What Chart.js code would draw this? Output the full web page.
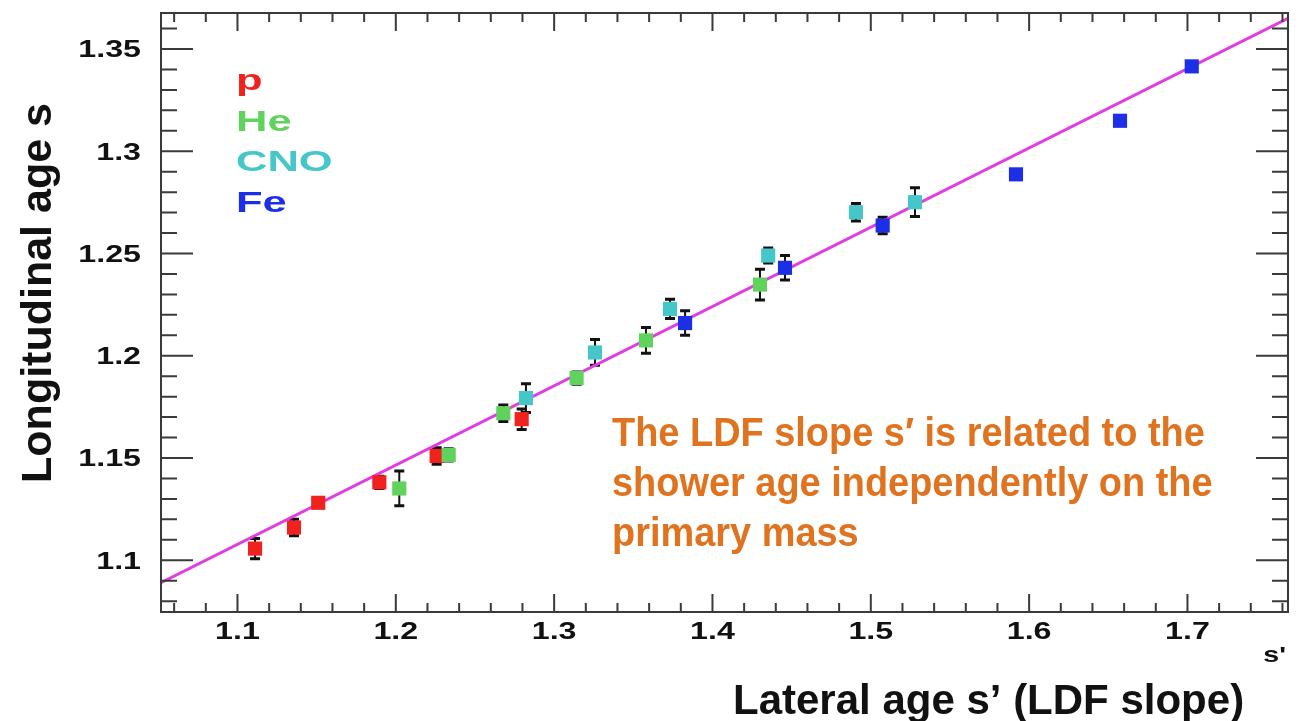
<!DOCTYPE html>
<html>
<head>
<meta charset="utf-8">
<title>Longitudinal vs lateral age</title>
<script src="https://cdn.jsdelivr.net/npm/chart.js@4.4.1/dist/chart.umd.min.js"></script>
<style>
  html, body { margin: 0; padding: 0; background: #fff; }
  #ageChart { display: block; }
</style>
</head>
<body>
<canvas id="ageChart" width="1301" height="721"></canvas>
<script>
// lateral age s' (x), longitudinal age s (y) and its error, per primary
const pX = [1.1111, 1.1357, 1.1510, 1.1896, 1.2258, 1.2795];
const pY = [1.1057, 1.1160, 1.1281, 1.1381, 1.1510, 1.1690];
const pErr = [0.005, 0.004, 0.002, 0.003, 0.004, 0.005];

const heX = [1.2022, 1.2334, 1.2679, 1.3142, 1.3580, 1.4300];
const heY = [1.1351, 1.1515, 1.1719, 1.1891, 1.2075, 1.2348];
const heErr = [0.0085, 0.003, 0.004, 0.003, 0.0063, 0.0075];

const cnoX = [1.2822, 1.3258, 1.3732, 1.4352, 1.4906, 1.5279];
const cnoY = [1.1793, 1.2016, 1.2229, 1.2490, 1.2702, 1.2751];
const cnoErr = [0.007, 0.0063, 0.0047, 0.0037, 0.0043, 0.007];

const feX = [1.3827, 1.4458, 1.5075, 1.5917, 1.6574, 1.7027];
const feY = [1.2160, 1.2430, 1.2637, 1.2887, 1.3149, 1.3415];
const feErr = [0.006, 0.006, 0.004, 0.002, 0.002, 0.002];

// linear fit through all the points
const fitX = [1.0517, 1.7635];
const fitY = [1.089, 1.365];

const xTicks = [1.1, 1.2, 1.3, 1.4, 1.5, 1.6, 1.7];
const xTickLabels = ["1.1", "1.2", "1.3", "1.4", "1.5", "1.6", "1.7"];
const yTicks = [1.1, 1.15, 1.2, 1.25, 1.3, 1.35];
const yTickLabels = ["1.1", "1.15", "1.2", "1.25", "1.3", "1.35"];

const legendNames = ["p", "He", "CNO", "Fe"];
const noteLines = [
    "The LDF slope s\u2032 is related to the",
    "shower age independently on the",
    "primary mass"
];

const colors = ["#f0221e", "#5fd35c", "#45c6c8", "#1c2ee6"];

function points(xs, ys) {
    return xs.map((x, i) => ({ x: x, y: ys[i] }));
}

function markerSet(label, xs, ys, errs, color) {
    return {
        label: label,
        data: points(xs, ys),
        yErr: errs,
        backgroundColor: color,
        borderWidth: 0,
        pointStyle: "rect",
        pointRadius: 10,
        showLine: false
    };
}

// ROOT-like text is wider than the font, stretch it horizontally
function wideText(ctx, text, x, y, align, sx) {
    ctx.save();
    ctx.translate(x, y);
    ctx.scale(sx, 1);
    ctx.textAlign = align;
    ctx.fillText(text, 0, 0);
    ctx.restore();
}

function minorValues(min, max, step, majors) {
    const out = [];
    const start = Math.ceil(min / step - 1e-9);
    for (let k = start; k * step <= max + 1e-9; k++) {
        const v = +(k * step).toFixed(4);
        if (!majors.some(m => Math.abs(m - v) < 1e-6)) out.push(v);
    }
    return out;
}

// error bars go under the markers
const errorBars = {
    id: "errorBars",
    beforeDatasetsDraw(chart) {
        const ctx = chart.ctx;
        const xs = chart.scales.x, ys = chart.scales.y;
        ctx.save();
        ctx.strokeStyle = "#111";
        chart.data.datasets.forEach(ds => {
            if (!ds.yErr) return;
            ds.data.forEach((pt, i) => {
                const px = xs.getPixelForValue(pt.x);
                const top = ys.getPixelForValue(pt.y + ds.yErr[i]);
                const bot = ys.getPixelForValue(pt.y - ds.yErr[i]);
                ctx.lineWidth = 2;
                ctx.beginPath();
                ctx.moveTo(px, top); ctx.lineTo(px, bot);
                ctx.stroke();
                ctx.lineWidth = 3;
                ctx.beginPath();
                ctx.moveTo(px - 5, top); ctx.lineTo(px + 5, top);
                ctx.moveTo(px - 5, bot); ctx.lineTo(px + 5, bot);
                ctx.stroke();
            });
        });
        ctx.restore();
    }
};

const rootAxes = {
    id: "rootAxes",
    afterDraw(chart) {
        const ctx = chart.ctx;
        const a = chart.chartArea;
        const xs = chart.scales.x, ys = chart.scales.y;
        ctx.save();
        ctx.strokeStyle = "#3a3a3a";
        ctx.lineWidth = 2;
        ctx.strokeRect(a.left, a.top, a.right - a.left, a.bottom - a.top);

        const xMinor = minorValues(xs.min, xs.max, 0.02, xTicks);
        const yMinor = minorValues(ys.min, ys.max, 0.01, yTicks);
        ctx.beginPath();
        const xTick = (v, len) => {
            const px = xs.getPixelForValue(v);
            ctx.moveTo(px, a.bottom); ctx.lineTo(px, a.bottom - len);
            ctx.moveTo(px, a.top); ctx.lineTo(px, a.top + len);
        };
        const yTick = (v, len) => {
            const py = ys.getPixelForValue(v);
            ctx.moveTo(a.left, py); ctx.lineTo(a.left + len, py);
            ctx.moveTo(a.right, py); ctx.lineTo(a.right - len, py);
        };
        xTicks.forEach(v => xTick(v, 18));
        xMinor.forEach(v => xTick(v, 9));
        yTicks.forEach(v => yTick(v, 32));
        yMinor.forEach(v => yTick(v, 16));
        ctx.stroke();

        // tick labels
        ctx.fillStyle = "#111";
        ctx.font = "bold 23px 'Liberation Sans', Arial, sans-serif";
        ctx.textBaseline = "middle";
        xTicks.forEach((v, i) => {
            wideText(ctx, xTickLabels[i], xs.getPixelForValue(v), a.bottom + 21, "center", 1.4);
        });
        yTicks.forEach((v, i) => {
            wideText(ctx, yTickLabels[i], a.left - 20, ys.getPixelForValue(v) + 2, "right", 1.4);
        });
        ctx.font = "bold 22px 'Liberation Sans', Arial, sans-serif";
        wideText(ctx, "s'", a.right - 2, a.bottom + 44, "right", 1.3);

        // axis titles
        ctx.textBaseline = "alphabetic";
        ctx.font = "bold 42px 'Liberation Sans', Arial, sans-serif";
        ctx.textAlign = "left";
        ctx.fillText("Lateral age s\u2019 (LDF slope)", 733, 714);
        ctx.save();
        ctx.translate(51, 293);
        ctx.rotate(-Math.PI / 2);
        ctx.textAlign = "center";
        ctx.font = "bold 43px 'Liberation Sans', Arial, sans-serif";
        ctx.fillText("Longitudinal age s", 0, 0);
        ctx.restore();

        // species legend, text only
        ctx.font = "bold 30px 'Liberation Sans', Arial, sans-serif";
        legendNames.forEach((name, i) => {
            ctx.fillStyle = colors[i];
            wideText(ctx, name, 236, 90 + i * 40.7, "left", 1.45);
        });

        // annotation
        ctx.fillStyle = "#e0731f";
        ctx.font = "bold 41px 'Liberation Sans', Arial, sans-serif";
        noteLines.forEach((line, i) => {
            wideText(ctx, line, 612, 446 + i * 50, "left", 0.925);
        });
        ctx.restore();
    }
};

const ctx = document.getElementById("ageChart").getContext("2d");

const chart = new Chart(ctx, {
    type: "scatter",
    data: {
        datasets: [
            markerSet("Fe", feX, feY, feErr, colors[3]),
            markerSet("CNO", cnoX, cnoY, cnoErr, colors[2]),
            markerSet("He", heX, heY, heErr, colors[1]),
            markerSet("p", pX, pY, pErr, colors[0]),
            {
                label: "fit",
                data: points(fitX, fitY),
                showLine: true,
                pointRadius: 0,
                borderColor: "#e03ee0",
                borderWidth: 3,
                fill: false
            }
        ]
    },
    options: {
        responsive: false,
        animation: false,
        events: [],
        layout: {
            padding: { left: 161, top: 13, right: 13, bottom: 109 }
        },
        plugins: {
            legend: { display: false },
            tooltip: { enabled: false }
        },
        scales: {
            x: { type: "linear", min: 1.0517, max: 1.7635, display: false },
            y: { type: "linear", min: 1.0747, max: 1.3676, display: false }
        }
    },
    plugins: [errorBars, rootAxes]
});
</script>
</body>
</html>
